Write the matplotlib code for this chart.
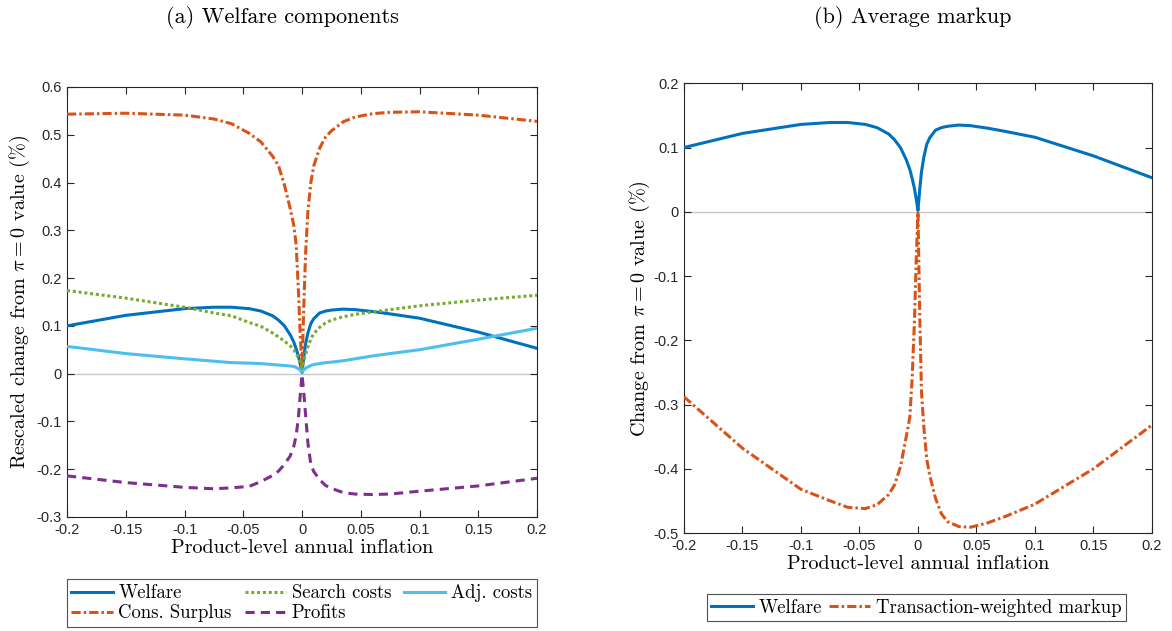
import numpy as np
import matplotlib
matplotlib.use('Agg')
import matplotlib.pyplot as plt

plt.rcParams['mathtext.fontset'] = 'cm'
plt.rcParams['axes.unicode_minus'] = False

# inflation grid (shared by all series)
infl = [-0.2, -0.15, -0.1, -0.075, -0.06, -0.045, -0.035, -0.025, -0.02, -0.015,
        -0.01, -0.007, -0.005, -0.003, -0.0015, 0, 0.0015, 0.003, 0.005, 0.0075,
        0.01, 0.015, 0.02, 0.025, 0.035, 0.045, 0.06, 0.075, 0.1, 0.15, 0.2]

welfare = [0.100, 0.122, 0.136, 0.139, 0.139, 0.136, 0.131, 0.121, 0.112, 0.100,
           0.081, 0.066, 0.052, 0.036, 0.020, 0.002, 0.035, 0.062, 0.085, 0.105,
           0.115, 0.127, 0.131, 0.133, 0.135, 0.134, 0.130, 0.125, 0.116, 0.087, 0.053]
cons_surplus = [0.543, 0.545, 0.541, 0.533, 0.523, 0.503, 0.485, 0.455, 0.435, 0.395,
                0.345, 0.310, 0.270, 0.170, 0.080, 0.010, 0.140, 0.250, 0.340, 0.400,
                0.435, 0.472, 0.495, 0.508, 0.527, 0.537, 0.544, 0.547, 0.548, 0.541, 0.528]
search_costs = [0.174, 0.158, 0.139, 0.127, 0.121, 0.107, 0.099, 0.085, 0.077, 0.068,
                0.058, 0.050, 0.042, 0.033, 0.024, 0.012, 0.028, 0.040, 0.056, 0.072,
                0.084, 0.097, 0.106, 0.112, 0.119, 0.124, 0.129, 0.134, 0.142, 0.154, 0.164]
adj_costs = [0.057, 0.042, 0.031, 0.026, 0.023, 0.022, 0.021, 0.019, 0.018, 0.017,
             0.016, 0.015, 0.013, 0.010, 0.007, 0.003, 0.008, 0.011, 0.014, 0.017,
             0.019, 0.021, 0.023, 0.024, 0.027, 0.031, 0.037, 0.042, 0.050, 0.072, 0.095]
profits = [-0.214, -0.228, -0.238, -0.241, -0.239, -0.236, -0.226, -0.213, -0.204, -0.190,
           -0.172, -0.152, -0.130, -0.090, -0.045, -0.002, -0.040, -0.085, -0.145, -0.190,
           -0.205, -0.222, -0.234, -0.240, -0.249, -0.252, -0.253, -0.252, -0.246, -0.235, -0.219]
markup = [-0.288, -0.368, -0.432, -0.450, -0.460, -0.462, -0.456, -0.440, -0.425, -0.397,
          -0.350, -0.320, -0.260, -0.170, -0.075, 0.000, -0.160, -0.280, -0.335, -0.385,
          -0.410, -0.446, -0.470, -0.482, -0.490, -0.491, -0.484, -0.474, -0.455, -0.400, -0.332]

xticks = [-0.2, -0.15, -0.1, -0.05, 0, 0.05, 0.1, 0.15, 0.2]
xticklabels = ['-0.2', '-0.15', '-0.1', '-0.05', '0', '0.05', '0.1', '0.15', '0.2']

c_blue = '#0072BD'
c_orange = '#D95319'
c_green = '#77AC30'
c_lblue = '#4DBEEE'
c_purple = '#7E2F8E'
c_axis = '#262626'

serif = 'cmr10'
tickfont = 'Liberation Sans'

fig = plt.figure(figsize=(11.72, 6.31), dpi=100)

def style_axes(ax, ylim, yticks, yticklabels):
    ax.set_xlim(-0.2, 0.2)
    ax.set_ylim(*ylim)
    ax.set_xticks(xticks)
    ax.set_xticklabels(xticklabels)
    ax.set_yticks(yticks)
    ax.set_yticklabels(yticklabels)
    ax.tick_params(direction='in', length=5, width=0.8, colors=c_axis,
                   top=True, right=True, labelsize=10.5, pad=4)
    for lab in ax.get_xticklabels() + ax.get_yticklabels():
        lab.set_fontfamily(tickfont)
    for s in ax.spines.values():
        s.set_color(c_axis)
        s.set_linewidth(0.8)
    ax.axhline(0, color='#c8c8c8', lw=1.0, zorder=1)
    ax.set_xlabel('Product-level annual inflation', fontfamily=serif, fontsize=14.5,
                  labelpad=2, color='black')

# (a) Welfare components
ax1 = fig.add_axes([0.0572, 0.1807, 0.401, 0.6815])
l_w, = ax1.plot(infl, welfare, color=c_blue, lw=2.2, label='Welfare', zorder=3)
l_cs, = ax1.plot(infl, cons_surplus, color=c_orange, lw=2.2, dashes=[3, 1, 0.8, 1],
                 label='Cons. Surplus', zorder=3)
l_sc, = ax1.plot(infl, search_costs, color=c_green, lw=2.2, dashes=[1, 0.9],
                 label='Search costs', zorder=3)
l_pr, = ax1.plot(infl, profits, color=c_purple, lw=2.2, dashes=[3, 2],
                 label='Profits', zorder=3)
l_ac, = ax1.plot(infl, adj_costs, color=c_lblue, lw=2.2, label='Adj. costs', zorder=3)
style_axes(ax1, (-0.3, 0.6), np.arange(-0.3, 0.61, 0.1),
           ['-0.3', '-0.2', '-0.1', '0', '0.1', '0.2', '0.3', '0.4', '0.5', '0.6'])
ax1.set_ylabel(r'Rescaled change from $\pi = 0$ value (%)', fontfamily=serif,
               fontsize=14.5, labelpad=3)
leg1 = fig.legend(handles=[l_w, l_cs, l_sc, l_pr, l_ac], loc='center',
                  bbox_to_anchor=(0.2575, 0.044), ncol=3, frameon=True, fancybox=False,
                  prop={'family': serif, 'size': 13.5}, handlelength=2.2, handletextpad=0.3,
                  columnspacing=0.7, labelspacing=0.12, borderpad=0.25, borderaxespad=0)
leg1.get_frame().set_edgecolor(c_axis)
leg1.get_frame().set_linewidth(0.8)
fig.text(0.241, 0.972, '(a) Welfare components', ha='center', va='center',
         fontfamily=serif, fontsize=16)

# (b) Average markup
ax2 = fig.add_axes([0.5836, 0.1553, 0.3993, 0.7127])
l_w2, = ax2.plot(infl, welfare, color=c_blue, lw=2.2, label='Welfare', zorder=3)
l_mk, = ax2.plot(infl, markup, color=c_orange, lw=2.2, dashes=[3, 1, 0.8, 1],
                 label='Transaction-weighted markup', zorder=3)
style_axes(ax2, (-0.5, 0.2), np.arange(-0.5, 0.21, 0.1),
           ['-0.5', '-0.4', '-0.3', '-0.2', '-0.1', '0', '0.1', '0.2'])
ax2.set_ylabel(r'Change from $\pi = 0$ value (%)', fontfamily=serif,
               fontsize=14.5, labelpad=1)
leg2 = fig.legend(handles=[l_w2, l_mk], loc='center', bbox_to_anchor=(0.782, 0.037),
                  ncol=2, frameon=True, fancybox=False,
                  prop={'family': serif, 'size': 13.5}, handlelength=2.2, handletextpad=0.3,
                  columnspacing=0.4, borderpad=0.25, borderaxespad=0)
leg2.get_frame().set_edgecolor(c_axis)
leg2.get_frame().set_linewidth(0.8)
fig.text(0.779, 0.972, '(b) Average markup', ha='center', va='center',
         fontfamily=serif, fontsize=16)

fig.savefig('out.png', dpi=100, facecolor='white')
